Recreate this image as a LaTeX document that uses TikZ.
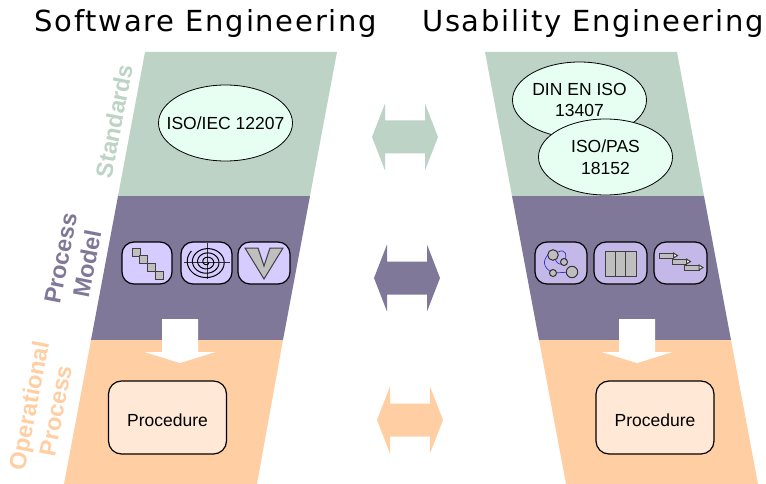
\documentclass[tikz,border=0pt]{standalone}
\usepackage{fontspec}
\setmainfont{Liberation Sans}
\newfontfamily\titlefont[LetterSpace=6]{DejaVu Sans}
\usetikzlibrary{shapes.geometric}
\definecolor{stdgreen}{HTML}{BDD3C6}
\definecolor{modelpurple}{HTML}{807899}
\definecolor{opsorange}{HTML}{FFCFA3}
\definecolor{ovalfill}{HTML}{E6FFF2}
\definecolor{iconleft}{HTML}{D6CCFF}
\definecolor{iconright}{HTML}{C4B8E8}
\definecolor{procfill}{HTML}{FFE8D6}
\definecolor{glyphgray}{HTML}{BFBFBF}
\tikzset{
  heading/.style={anchor=base west,font=\titlefont\fontsize{29}{32}\selectfont,inner sep=0pt},
  oval/.style={ellipse,draw=black,fill=ovalfill,line width=0.8pt,minimum width=134pt,minimum height=76pt,
    inner xsep=-15pt,inner ysep=-10pt,align=center,font=\fontsize{17.5}{21.5}\selectfont},
  icon/.style={draw=black,rounded corners=12pt,line width=1.2pt,minimum width=50pt,minimum height=42pt,inner sep=0pt},
  procbox/.style={draw=black,fill=procfill,rounded corners=13pt,line width=1.2pt,minimum width=118pt,minimum height=73pt,
    inner sep=0pt,text height=18pt,text depth=1pt,font=\fontsize{17.5}{20}\selectfont},
  sidelabel/.style={rotate=79,align=center,font=\bfseries\fontsize{23.5}{27}\selectfont,inner sep=0pt},
  glyph/.style={draw=black!75,fill=glyphgray,line width=1pt}
}
% double arrow: tip x, centre y
\newcommand{\bothways}[3]{
  \fill[#3] (#1,#2) -- ++(13,-33.5) -- ++(0,17) -- ++(40,0) -- ++(0,-17) -- ++(13,33.5)
    -- ++(-13,33.5) -- ++(0,-17) -- ++(-40,0) -- ++(0,17) -- cycle;
}
% white block arrow: centre x
\newcommand{\downblock}[1]{
  \fill[white] (#1-18,319) -- (#1+18,319) -- (#1+18,352) -- (#1+35.5,352) -- (#1,363) -- (#1-35.5,352) -- (#1-18,352) -- cycle;
}
\begin{document}
\begin{tikzpicture}[x=1pt,y=-1pt]
\useasboundingbox (0,0) rectangle (766,484);

\node[heading] (titleleft) at (34.5,32) {Software Engineering};
\node[heading] (titleright) at (422,32) {Usability Engineering};

% left column
\fill[stdgreen] (145,52)--(337,52)--(310,196)--(118,196)--cycle;
\fill[modelpurple] (118,196)--(310,196)--(283,340)--(91,340)--cycle;
\fill[opsorange] (91,340)--(283,340)--(257,484)--(64,484)--cycle;

% right column
\fill[stdgreen] (485,52)--(677,52)--(704,196)--(512,196)--cycle;
\fill[modelpurple] (512,196)--(704,196)--(731,340)--(539,340)--cycle;
\fill[opsorange] (539,340)--(731,340)--(758,484)--(566,484)--cycle;

\node[sidelabel,text=stdgreen] (stdlabel) at (114,121) {Standards};
\node[sidelabel,text=modelpurple] (modellabel) at (74,261) {Process\\Model};
\node[sidelabel,text=opsorange] (opslabel) at (42,408) {Operational\\Process};

\bothways{372}{137}{stdgreen}
\bothways{374}{278}{modelpurple}
\bothways{377}{420}{opsorange}

\node[oval] (isoiec) at (225.5,123) {ISO/IEC 12207};
\node[oval] (din) at (579.5,100) {DIN EN ISO\\13407};
\node[oval] (pas) at (605.5,157) {ISO/PAS\\18152};

% left icons
\node[icon,fill=iconleft] (waterfall) at (147,263) {};
\node[icon,fill=iconleft,minimum width=51pt] (spiral) at (206.5,263) {};
\node[icon,fill=iconleft,minimum width=52pt] (vmodel) at (264,263) {};
\foreach \i in {0,1,2,3}
  \draw[glyph] (132+7.7*\i,248+7.7*\i) rectangle ++(8,8);
\draw[black!80,line width=0.7pt] (184,262)--(230,262) (207,243)--(207,279);
\draw[black,line width=1pt,domain=0:1300,samples=160,smooth] plot ({207+(1.5+0.0145*\x)*cos(\x)},{262+(1.5+0.012*\x)*sin(\x)});
\draw[glyph] (245,248)--(258,248)--(264,266)--(270,248)--(283,248)--(264,279)--cycle;

% right icons
\node[icon,fill=iconright,minimum width=52pt] (states) at (561,263) {};
\node[icon,fill=iconright,minimum width=53pt] (phases) at (620.5,263) {};
\node[icon,fill=iconright,minimum width=53pt] (gantt) at (680.5,263) {};
\draw[blue!60!gray,line width=0.7pt] (553,255) .. controls (558,268) and (563,264) .. (564,262)
  .. controls (568,256) and (566,248) .. (558,252);
\draw[blue!60!gray,line width=0.7pt] (551,252) .. controls (541,260) and (543,268) .. (553,273) -- (572,272);
\draw[glyph,draw=black!80] (553,255) circle (5.3pt) (564,262) circle (3.5pt) (553,273) circle (3.5pt) (572,272) circle (5.7pt);
\draw[glyph] (605,251) rectangle (636,276) (615.3,251)--(615.3,276) (625.7,251)--(625.7,276);
\foreach \px/\py in {659/253,672/259,684.5/265}{
  \draw[glyph] (\px,\py) rectangle ++(14.5,5);
  \draw[glyph,fill=white] (\px+14.5,\py) -- ++(4,2.5) -- ++(-4,2.5) -- cycle;
}

\downblock{180}
\downblock{637}

\node[procbox] (procleft) at (167.5,417.5) {Procedure};
\node[procbox] (procright) at (655,417.5) {Procedure};

\end{tikzpicture}
\end{document}
